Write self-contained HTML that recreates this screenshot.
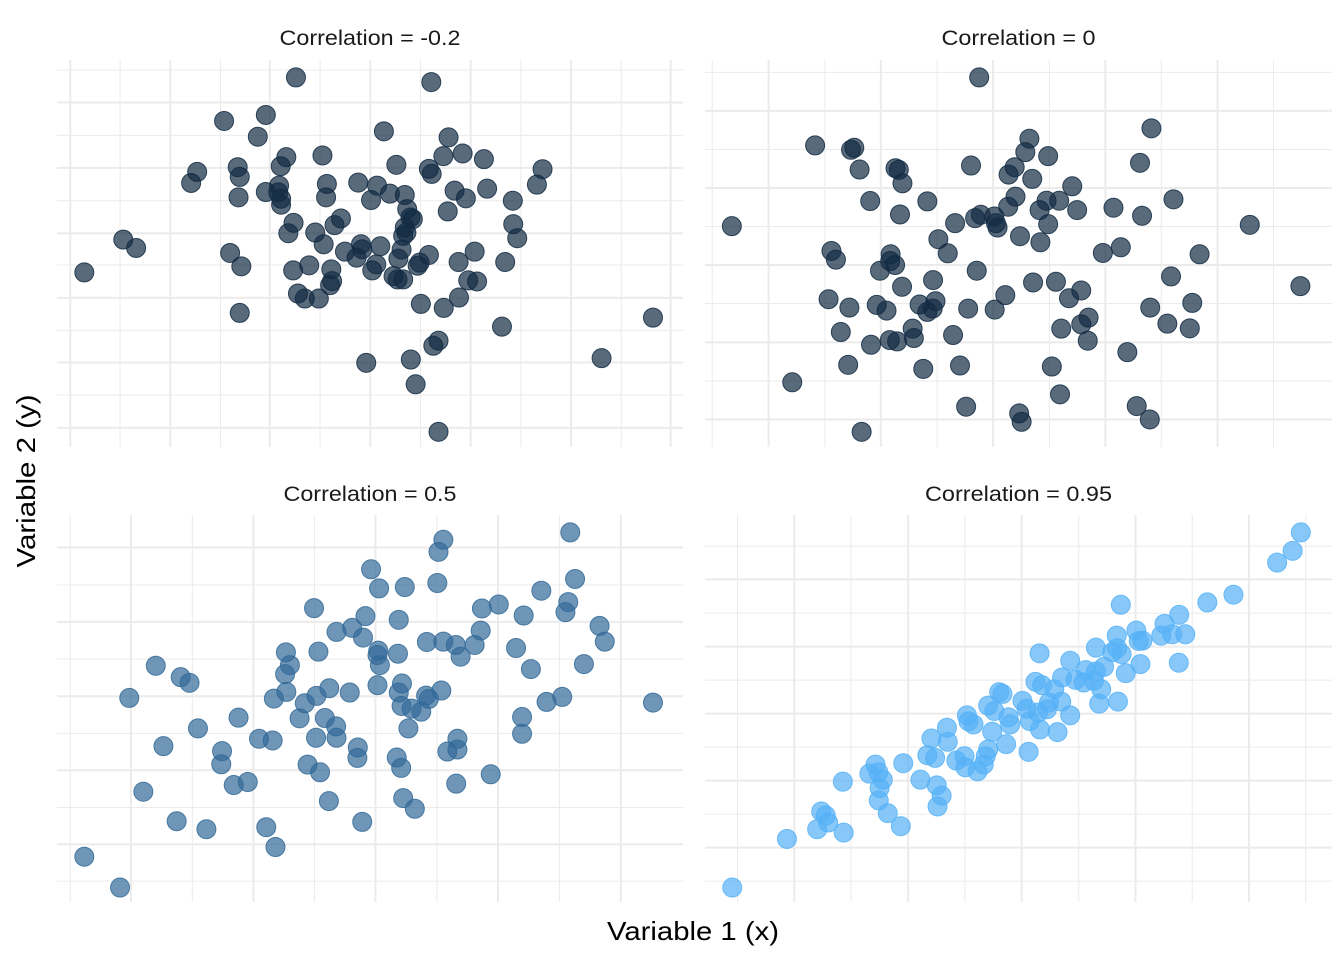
<!DOCTYPE html>
<html><head><meta charset="utf-8"><style>
html,body{margin:0;padding:0;background:#fff;}
svg{display:block;font-family:"Liberation Sans",Arial,sans-serif;}
</style></head><body>
<svg id="chart" width="1344" height="960" viewBox="0 0 1344 960" xmlns="http://www.w3.org/2000/svg">
<rect width="1344" height="960" fill="#fff"/>
<g id="panels"></g>
<text x="693" y="940" text-anchor="middle" font-size="26" textLength="172" lengthAdjust="spacingAndGlyphs" fill="#000">Variable 1 (x)</text>
<text transform="translate(35,481) rotate(-90)" text-anchor="middle" font-size="26" textLength="173" lengthAdjust="spacingAndGlyphs" fill="#000">Variable 2 (y)</text>
</svg>
<script>
// Data in reading units (x to the right, y measured from the top of each panel)
const titles = ["Correlation = -0.2","Correlation = 0","Correlation = 0.5","Correlation = 0.95"];
const titleLens = [181,154,173,187];
const colors = ["#132B43","#132B43","#336A98","#56B1F7"];
const p1x=[595,932,416,520,500,814,975,571,557,661,845,962,1010,1063,926,933,1209,1195,349,334,450,455,452,520,553,551,558,558,672,670,750,797,782,829,866,872,880,886,866,870,862,990,1018,973,1071,1135,1136,1146,589,576,643,707,691,664,165,197,68,431,459,717,757,760,746,805,858,850,588,628,683,685,680,600,617,652,795,785,838,848,862,926,903,898,1000,1040,1116,1024,1046,906,963,1001,455,1484,1108,950,937,770,881,1356,893,950];
const p1y=[52,66,182,164,229,213,231,290,317,285,313,287,279,296,325,340,326,372,334,367,320,349,410,394,375,395,414,432,370,410,366,375,418,399,403,445,470,475,500,515,525,390,413,452,384,420,490,532,486,517,515,473,493,550,536,561,634,576,616,572,550,565,590,556,566,593,628,613,625,660,672,697,712,712,610,628,645,655,655,582,605,614,603,572,603,658,661,728,740,709,755,769,796,838,853,904,894,890,968,1110];
const p2x=[684,1106,282,370,378,391,479,487,496,664,807,797,853,771,756,814,1078,912,417,557,490,773,755,849,880,832,924,853,1013,1083,1160,78,1347,625,674,688,721,725,729,584,784,834,607,322,333,467,466,478,441,987,1031,1224,678,571,495,816,872,934,904,1154,1471,748,315,366,433,457,538,577,570,557,657,722,1103,1206,952,934,1145,1200,885,950,345,419,465,483,521,524,620,1047,363,547,637,862,226,882,652,782,788,1070,1102,396];
const p2y=[52,204,255,268,262,327,323,328,368,315,235,275,287,320,342,355,307,377,421,422,461,408,438,420,420,448,448,490,441,465,416,496,492,487,472,462,467,487,500,535,526,544,577,570,596,580,600,612,629,576,559,580,629,657,677,664,662,688,711,646,675,702,714,739,731,748,730,720,742,752,742,745,739,725,769,789,787,801,802,838,812,850,836,840,802,830,821,872,910,922,912,915,962,998,1035,1055,1080,1033,1073,1110];
const p3x=[962,950,1278,782,802,866,947,1290,1206,1273,1266,640,768,851,1058,1100,1162,1351,1364,696,735,762,1055,921,962,993,1040,1005,1143,570,651,800,798,849,804,580,568,1180,1312,246,308,330,180,571,540,678,729,646,617,798,859,851,919,926,957,858,883,907,1219,1258,1484,604,667,695,696,645,875,1158,1158,452,351,265,503,537,411,409,749,748,846,857,997,972,997,624,655,1080,215,440,475,994,677,862,891,298,372,521,760,544,68,157];
const p3y=[74,110,52,162,219,215,203,191,226,260,290,278,302,313,279,267,300,331,378,349,337,366,345,379,378,388,388,423,397,410,408,405,418,414,448,448,475,460,445,450,484,501,546,528,548,517,530,540,562,508,503,530,539,549,524,570,578,587,558,543,560,607,606,631,665,665,637,603,653,605,637,690,668,673,705,744,694,725,724,755,668,706,700,745,768,774,826,806,797,802,854,845,877,914,938,932,916,991,1020,1112];
const p4x=[1472,1452,1414,1307,1243,1031,1174,1138,1130,1157,1189,1069,1075,1084,1021,970,1022,1010,1033,1173,1079,1043,832,907,990,970,945,887,920,940,965,983,822,838,868,885,978,1024,733,741,790,855,850,800,828,808,833,907,876,706,721,756,760,654,658,670,605,567,607,716,750,805,557,576,628,648,706,700,695,650,680,498,430,415,437,448,440,438,460,540,580,592,582,492,350,297,308,314,287,352,213,79];
const p4y=[52,107,142,238,261,268,298,325,360,356,356,345,376,375,360,396,398,410,415,441,445,472,413,435,453,467,463,485,492,500,495,520,498,508,520,557,563,557,529,534,555,560,580,578,590,615,640,598,648,569,585,604,625,598,616,625,635,667,677,647,684,707,717,725,733,720,700,720,745,753,765,741,745,772,768,790,815,852,890,790,807,838,870,929,796,885,897,918,938,948,967,1112];
// grid breaks in reading units
const g1xMajor=[33,282,530,780,1030,1280,1528], g1xMinor=[157,407,655,905,1155,1405];
const g1yMajor=[127,322,517,710,903,1098], g1yMinor=[30,225,420,612,807,1000];
const g2xMajor=[168,443,718,993,1268], g2xMinor=[30,306,581,856,1130,1405];
const g2yMajor=[152,382,612,843,1073], g2yMinor=[37,267,497,727,958];
const g3xMajor=[184,489,793,1098,1404], g3xMinor=[33,337,641,946,1251];
const g3yMajor=[97,319,541,762,983], g3yMinor=[209,430,652,873,1093];
const g4xMajor=[231,510,788,1067,1345], g4xMinor=[92,370,649,928,1206,1484];
const g4yMajor=[192,393,593,793,993], g4yMinor=[93,293,493,693,893,1093];

const NS="http://www.w3.org/2000/svg";
const root=document.getElementById('panels');
const panels=[
 {x0:57,y0:60,sx:2.49,l:57,r:683,t:60,b:447,xs:p1x,ys:p1y,gx:[g1xMajor,g1xMinor],gy:[g1yMajor,g1yMinor],ty:45},
 {x0:700,y0:60,sx:2.45,l:705,r:1332,t:60,b:447,xs:p2x,ys:p2y,gx:[g2xMajor,g2xMinor],gy:[g2yMajor,g2yMinor],ty:45},
 {x0:57,y0:515,sx:2.49,l:57,r:683,t:515,b:902,xs:p3x,ys:p3y,gx:[g3xMajor,g3xMinor],gy:[g3yMajor,g3yMinor],ty:501},
 {x0:700,y0:515,sx:2.45,l:705,r:1332,t:515,b:902,xs:p4x,ys:p4y,gx:[g4xMajor,g4xMinor],gy:[g4yMajor,g4yMinor],ty:501}
];
const SY=2.985;
function mk(tag,attrs){const e=document.createElementNS(NS,tag);for(const k in attrs)e.setAttribute(k,attrs[k]);return e;}
panels.forEach((p,i)=>{
  const xScale=v=>p.x0+v/p.sx;
  const yScale=v=>p.y0+v/SY;
  const g=mk('g',{});
  
  
  root.appendChild(g);
  [[p.gx[1],1],[p.gx[0],2]].forEach(([arr,w])=>arr.forEach(v=>{
    const ln=mk('line',{x1:xScale(v),x2:xScale(v),y1:p.t,y2:p.b,stroke:'#ebebeb','stroke-width':w});
    
    
    g.appendChild(ln);
  }));
  [[p.gy[1],1],[p.gy[0],2]].forEach(([arr,w])=>arr.forEach(v=>{
    const ln=mk('line',{x1:p.l,x2:p.r,y1:yScale(v),y2:yScale(v),stroke:'#ebebeb','stroke-width':w});
    
    
    g.appendChild(ln);
  }));
  const t=mk('text',{x:(p.l+p.r)/2,y:p.ty,'text-anchor':'middle','font-size':'21',fill:'#1a1a1a',textLength:titleLens[i],lengthAdjust:'spacingAndGlyphs'});
  t.textContent=titles[i];
  
  
  g.appendChild(t);
  for(let k=0;k<p.xs.length;k++){
    const c=mk('circle',{cx:xScale(p.xs[k]),cy:yScale(p.ys[k]),r:9.5,fill:colors[i],'fill-opacity':0.7,stroke:colors[i],'stroke-opacity':0.85,'stroke-width':1});
    
    
    g.appendChild(c);
  }
});
</script>
</body></html>
